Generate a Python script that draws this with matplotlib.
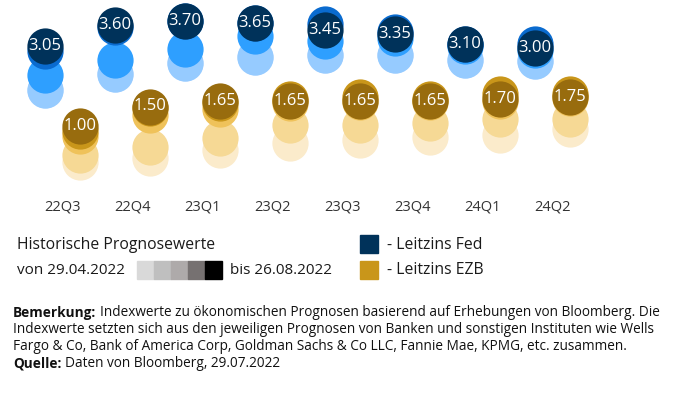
#! /usr/bin/env python3
import matplotlib
matplotlib.use('Agg')
import matplotlib.pyplot as plt
from matplotlib.patches import Rectangle

plt.rcParams['font.family'] = ['Open Sans', 'DejaVu Sans']

quarters = ['22Q3', '22Q4', '23Q1', '23Q2', '23Q3', '23Q4', '24Q1', '24Q2']

# Forecasts per survey date (oldest first, newest = 26.08.2022 last)
fed_1 = [1.92, 2.33, 2.62, 2.77, 2.82, 2.82, 2.69, 2.67]
fed_2 = [1.92, 2.33, 2.62, 2.77, 2.82, 2.82, 2.69, 2.67]
fed_3 = [2.31, 2.69, 2.97, 3.31, 3.18, 3.26, 3.05, 2.95]
fed_4 = [2.92, 3.55, 3.68, 3.63, 3.62, 3.41, 3.10, 3.10]
fed_5 = [3.05, 3.60, 3.70, 3.65, 3.45, 3.35, 3.10, 3.00]

ezb_1 = [0.08, 0.18, 0.38, 0.56, 0.64, 0.72, 0.77, 0.92]
ezb_2 = [0.26, 0.46, 0.69, 1.03, 1.03, 1.08, 1.18, 1.18]
ezb_3 = [0.74, 1.28, 1.44, 1.60, 1.62, 1.62, 1.65, 1.72]
ezb_4 = [0.87, 1.45, 1.60, 1.69, 1.74, 1.69, 1.82, 1.82]
ezb_5 = [1.00, 1.50, 1.65, 1.65, 1.65, 1.65, 1.70, 1.75]

fed_colors = ['#c4e1ff', '#96cbff', '#2e9fff', '#0a6bcf', '#00325a']
ezb_colors = ['#fbebcb', '#f6d995', '#efc25a', '#c9961a', '#986c0e']
grey_colors = ['#d9d9d9', '#bfbfbf', '#aeaaaa', '#767171', '#000000']

W, H = 675, 393
fig = plt.figure(figsize=(W / 100, H / 100), dpi=100)
ax = fig.add_axes([0, 1 - 190 / H, 1, 190 / H])

x = list(range(len(quarters)))
x_fed = [i - 0.25 for i in x]
x_ezb = [i + 0.25 for i in x]

fed_rows = [fed_1, fed_2, fed_3, fed_4, fed_5]
ezb_rows = [ezb_1, ezb_2, ezb_3, ezb_4, ezb_5]
for k in range(5):
    ax.scatter(x_fed, fed_rows[k], s=680, color=fed_colors[k], linewidths=0, zorder=k + 1)
    ax.scatter(x_ezb, ezb_rows[k], s=680, color=ezb_colors[k], linewidths=0, zorder=k + 1)

for i in x:
    ax.text(x_fed[i], fed_5[i], f'{fed_5[i]:.2f}', color='white', fontsize=12,
            ha='center', va='center', zorder=10)
    ax.text(x_ezb[i], ezb_5[i], f'{ezb_5[i]:.2f}', color='white', fontsize=12,
            ha='center', va='center', zorder=10)

ax.set_xlim(-62.5 / 70, (W - 62.5) / 70)
ax.set_ylim(1 + (126 - 190) / 39, 1 + 126 / 39)
ax.set_xticks(x, quarters)
ax.tick_params(axis='x', length=0, pad=7, labelsize=10.5, labelcolor='#333333')
ax.set_yticks([])
for s in ax.spines.values():
    s.set_visible(False)


def fx(px):
    return px / W


def fy(py):
    return 1 - py / H


# legend block
fig.text(fx(17), fy(245), 'Historische Prognosewerte', fontsize=11.3, va='center', color='#1a1a1a')
fig.text(fx(17), fy(270), 'von 29.04.2022', fontsize=11, va='center', color='#1a1a1a')
for k, c in enumerate(grey_colors):
    fig.patches.append(Rectangle((fx(137 + k * 17), fy(279)), 17 / W, 18 / H,
                                 color=c, transform=fig.transFigure))
fig.text(fx(230), fy(270), 'bis 26.08.2022', fontsize=11, va='center', color='#1a1a1a')

fig.patches.append(Rectangle((fx(360), fy(253)), 18 / W, 18 / H, color='#00325a',
                             transform=fig.transFigure))
fig.patches.append(Rectangle((fx(360), fy(279)), 18 / W, 18 / H, color='#c9961a',
                             transform=fig.transFigure))
fig.text(fx(387), fy(245), '- Leitzins Fed', fontsize=11.3, va='center', color='#1a1a1a')
fig.text(fx(387), fy(270), '- Leitzins EZB', fontsize=11.3, va='center', color='#1a1a1a')

# footnote
renderer = fig.canvas.get_renderer()
note_lines = [
    ('Bemerkung:', 'Indexwerte zu ökonomischen Prognosen basierend auf Erhebungen von Bloomberg. Die'),
    ('', 'Indexwerte setzten sich aus den jeweiligen Prognosen von Banken und sonstigen Instituten wie Wells'),
    ('', 'Fargo & Co, Bank of America Corp, Goldman Sachs & Co LLC, Fannie Mae, KPMG, etc. zusammen.'),
    ('Quelle:', 'Daten von Bloomberg, 29.07.2022'),
]
for n, (bold, rest) in enumerate(note_lines):
    yy = fy(313 + n * 16.8)
    xx = fx(13)
    if bold:
        t = fig.text(xx, yy, bold, fontsize=9.8, fontweight='bold', va='center', color='#111111')
        bb = t.get_window_extent(renderer=renderer)
        xx = (bb.x1 + 3.5) / fig.bbox.width
    fig.text(xx, yy, rest, fontsize=9.8, va='center', color='#111111')

fig.savefig('out.png', dpi=100)
